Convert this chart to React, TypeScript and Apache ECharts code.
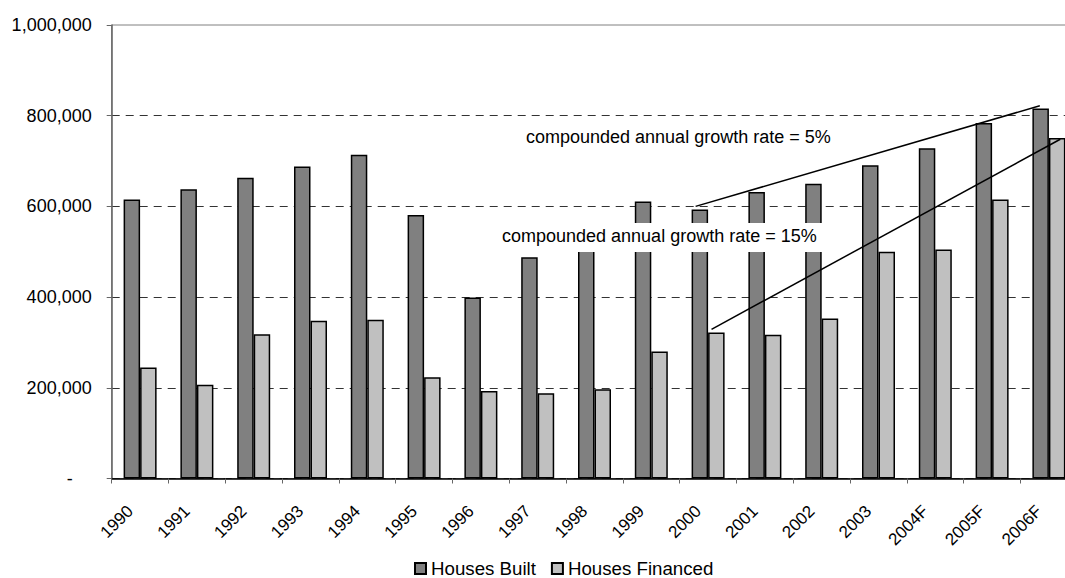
import React, { useEffect, useRef } from "react";
import * as echarts from "echarts";

const categories = ["1990","1991","1992","1993","1994","1995","1996","1997","1998","1999","2000","2001","2002","2003","2004F","2005F","2006F"];
const housesBuilt = [615000, 638000, 663000, 688000, 714000, 581000, 399000, 488000, 540000, 611000, 593000, 632000, 650000, 691000, 728000, 784000, 816000];
const housesFinanced = [245000, 207000, 318000, 348000, 350000, 223000, 193000, 188000, 197000, 280000, 322000, 317000, 353000, 500000, 505000, 615000, 751000];
// trend lines: [category position, value]
const trend5 = [[9.78, 600000], [15.84, 822000]];
const trend15 = [[10.06, 329000], [16.2, 748000]];
const label5 = "compounded annual growth rate = 5%";
const label15 = "compounded annual growth rate = 15%";

const FONT = "'Liberation Sans', Arial, sans-serif";

function fmt(v: number) {
  if (v === 0) return "{d|-}";
  return String(v).replace(/\B(?=(\d{3})+(?!\d))/g, ",");
}

export default function App() {
  const ref = useRef<HTMLDivElement>(null);
  useEffect(() => {
    const chart = echarts.init(ref.current!, null, { renderer: "svg" });
    chart.setOption({
      animation: false,
      textStyle: { fontFamily: FONT },
      grid: {
        left: 111.7,
        top: 25,
        width: 965.6,
        height: 453.5,
        show: true,
        borderColor: "#808080",
        borderWidth: 1,
        backgroundColor: "transparent",
      },
      legend: {
        left: 414,
        top: 559,
        padding: 0,
        itemWidth: 11,
        itemHeight: 11,
        itemGap: 15,
        icon: "rect",
        textStyle: { fontFamily: FONT, fontSize: 18.7, color: "#000" },
        data: ["Houses Built", "Houses Financed"],
      },
      xAxis: [
        {
          type: "category",
          data: categories,
          axisLine: { lineStyle: { color: "#000", width: 1.5 } },
          axisTick: { show: true, length: 5, lineStyle: { color: "#666" } },
          axisLabel: {
            rotate: 45,
            margin: 20,
            fontSize: 17,
            color: "#000",
            fontFamily: FONT,
            interval: 0,
            padding: [0, 14, 0, 0],
          },
          splitLine: { show: false },
        },
        {
          type: "value",
          min: -0.5,
          max: 16.5,
          show: false,
        },
      ],
      yAxis: {
        type: "value",
        min: 0,
        max: 1000000,
        interval: 200000,
        axisLine: { show: true, onZero: false, lineStyle: { color: "#666", width: 1.5 } },
        axisTick: { show: true, length: 5, lineStyle: { color: "#666" } },
        axisLabel: {
          margin: 20,
          fontSize: 18,
          color: "#000",
          fontFamily: FONT,
          formatter: fmt,
          rich: { d: { fontSize: 18, color: "#000", fontFamily: FONT, padding: [0, 19, 0, 0] } },
        },
        splitLine: {
          show: true,
          lineStyle: {
            color: ["#333", "#333", "#333", "#333", "#333", "rgba(0,0,0,0)"],
            type: [8, 6],
            width: 1,
          },
        },
      },
      series: [
        {
          name: "Houses Built",
          type: "bar",
          data: housesBuilt,
          barWidth: 16.5,
          barGap: "0%",
          itemStyle: { color: "#808080", borderColor: "#000", borderWidth: 1.5 },
        },
        {
          name: "Houses Financed",
          type: "bar",
          data: housesFinanced,
          barWidth: 16.5,
          barGap: "0%",
          itemStyle: { color: "#C0C0C0", borderColor: "#000", borderWidth: 1.5 },
        },
        {
          name: "trend5",
          type: "line",
          xAxisIndex: 1,
          data: trend5,
          symbol: "none",
          lineStyle: { color: "#000", width: 1.5 },
          z: 5,
        },
        {
          name: "trend15",
          type: "line",
          xAxisIndex: 1,
          data: trend15,
          symbol: "none",
          lineStyle: { color: "#000", width: 1.5 },
          z: 5,
        },
      ],
      graphic: [
        {
          type: "text",
          left: 526,
          top: 128,
          z: 100,
          style: { text: label5, fontSize: 18, fontFamily: FONT, fill: "#000" },
        },
        {
          type: "rect",
          shape: { x: 497, y: 223, width: 329, height: 29 },
          z: 99,
          style: { fill: "#fff" },
        },
        {
          type: "text",
          left: 502,
          top: 227,
          z: 100,
          style: { text: label15, fontSize: 18, fontFamily: FONT, fill: "#000" },
        },
      ],
    });
    return () => chart.dispose();
  }, []);
  return (
    <div style={{ position: "absolute", left: 0, top: 0, width: 1065, height: 578, overflow: "hidden", background: "#fff" }}>
      <div ref={ref} style={{ width: 1090, height: 578 }} />
    </div>
  );
}
